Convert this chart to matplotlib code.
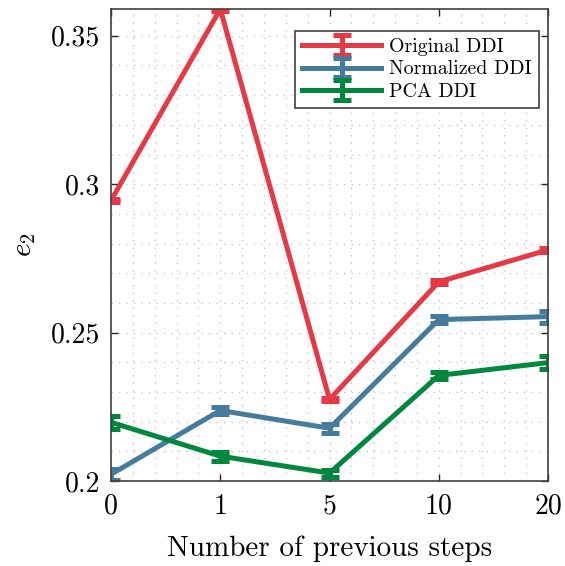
import matplotlib
matplotlib.use("Agg")
import matplotlib.pyplot as plt
import numpy as np
from matplotlib.ticker import MultipleLocator

plt.rcParams['font.family'] = 'serif'
plt.rcParams['font.serif'] = ['cmr10']
plt.rcParams['mathtext.fontset'] = 'cm'
plt.rcParams['axes.formatter.use_mathtext'] = True

steps = ['0', '1', '5', '10', '20']
original = [0.2945, 0.3590, 0.2275, 0.2671, 0.2779]
original_err = [0.0006, 0.0006, 0.0006, 0.0006, 0.0007]
normalized = [0.2023, 0.2238, 0.2178, 0.2544, 0.2554]
normalized_err = [0.0018, 0.0012, 0.0015, 0.0012, 0.0020]
pca = [0.2198, 0.2084, 0.2027, 0.2356, 0.2399]
pca_err = [0.0022, 0.0015, 0.0012, 0.0012, 0.0022]

series = [
    ('Original DDI', original, original_err, '#E63946'),
    ('Normalized DDI', normalized, normalized_err, '#457B9D'),
    ('PCA DDI', pca, pca_err, '#00873E'),
]

fig = plt.figure(figsize=(5.65, 5.66), dpi=100)
ax = fig.add_axes([0.1965, 0.150, 0.7735, 0.834])
x = np.arange(len(steps))
for name, vals, err, col in series:
    ax.errorbar(x, vals, yerr=err, color=col, lw=3.6, elinewidth=3.6,
                capsize=6.5, capthick=3.6, label=name)

ax.set_xlim(0, len(steps) - 1)
ax.set_ylim(0.2, 0.359)
ax.set_xticks(x)
ax.set_xticklabels(steps)
ax.set_yticks([0.2, 0.25, 0.3, 0.35])
ax.set_yticklabels(['0.2', '0.25', '0.3', '0.35'])
ax.xaxis.set_minor_locator(MultipleLocator(0.2))
ax.yaxis.set_minor_locator(MultipleLocator(0.01))
ax.grid(True, which='both', linestyle=(0, (1, 5)), color='#bdbdbd', lw=0.9)
ax.tick_params(which='major', direction='in', length=5, width=1, labelsize=20,
               top=True, right=True, color='#262626')
ax.tick_params(axis='x', which='major', pad=9)
ax.tick_params(axis='y', which='major', pad=8)
ax.tick_params(which='minor', length=0)
for s in ax.spines.values():
    s.set_color('#404040')
    s.set_linewidth(1.2)
ax.set_xlabel('Number of previous steps', fontsize=21, labelpad=11)
ax.set_ylabel(r'$e_2$', fontsize=21, labelpad=9)

leg = ax.legend(loc='upper right', bbox_to_anchor=(0.979, 0.953), fontsize=14.3,
                fancybox=False, edgecolor='#404040', framealpha=1,
                handlelength=4.0, handletextpad=0.4, borderpad=0.35,
                labelspacing=0.22, borderaxespad=0)
leg.get_frame().set_linewidth(1.2)

fig.savefig('out.png', dpi=100)
